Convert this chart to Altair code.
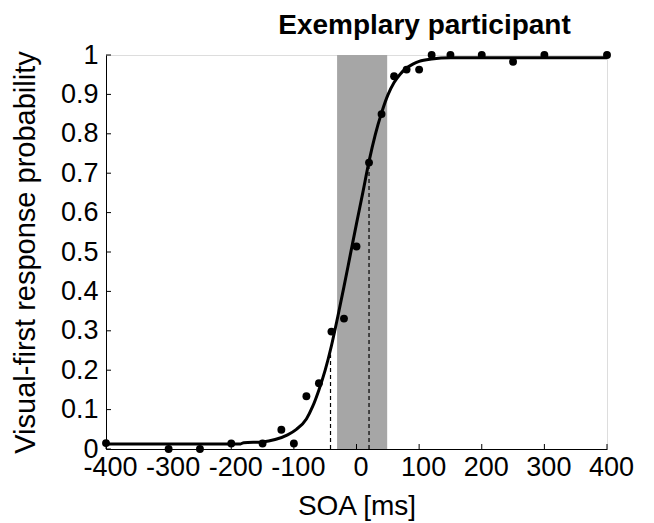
import altair as alt
import pandas as pd

# Observed data points
soa = [-400, -300, -250, -200, -150, -120, -100, -80, -60, -40, -20, 0,
       20, 40, 60, 80, 100, 120, 150, 200, 250, 300, 400]
prob = [0.015, 0.0, 0.0, 0.014, 0.014, 0.049, 0.014, 0.134, 0.167, 0.298, 0.331, 0.514,
        0.727, 0.85, 0.946, 0.963, 0.963, 1.0, 1.0, 1.0, 0.983, 1.0, 1.0]

# Fitted curve
curve_x = [-400, -185, -180, -150, -130, -110, -96, -80, -70, -60, -50, -40, -30, -20,
           -10, 0, 10, 20, 30, 40, 50, 60, 70, 80, 90, 100, 120, 150, 400]
curve_y = [0.013, 0.013, 0.016, 0.018, 0.024, 0.036, 0.050, 0.076, 0.108, 0.150, 0.200,
           0.262, 0.335, 0.412, 0.492, 0.572, 0.650, 0.730, 0.798, 0.853, 0.898, 0.930,
           0.952, 0.967, 0.977, 0.984, 0.990, 0.993, 0.993]

# Dashed threshold lines
dash_x = [-41.5, 20]
dash_top = [0.24, 0.73]

# Shaded window
band_start = [-31]
band_end = [49]

x_ticks = [-400, -300, -200, -100, 0, 100, 200, 300, 400]
y_ticks = [0, 0.1, 0.2, 0.3, 0.4, 0.5, 0.6, 0.7, 0.8, 0.9, 1]

FONT = "Liberation Sans"

xscale = alt.Scale(domain=[-400, 400], nice=False, zero=False)
yscale = alt.Scale(domain=[0, 1], nice=False, zero=False)

xaxis = alt.Axis(values=x_ticks, ticks=False, grid=False, labelFontSize=27, labelFont=FONT,
                 labelColor="black", labelPadding=5, domainColor="black", domainWidth=1,
                 labelExpr="'' + datum.value", labelFlush=False, labelOverlap=False,
                 labelOffset=4,
                 title="SOA [ms]", titleFont=FONT, titleFontSize=28, titleFontWeight="normal",
                 titleColor="black", titlePadding=12)
yaxis = alt.Axis(values=y_ticks, ticks=False, grid=False, labelFontSize=27, labelFont=FONT,
                 labelColor="black", labelPadding=8, domainColor="black", domainWidth=1,
                 format="~g", labelFlush=False, labelOverlap=False,
                 title="Visual-first response probability", titleFont=FONT, titleFontSize=29,
                 titleFontWeight="normal", titleColor="black", titlePadding=20)

def X(field="x"):
    return alt.X(f"{field}:Q", scale=xscale, axis=xaxis)

def Y(field="y"):
    return alt.Y(f"{field}:Q", scale=yscale, axis=yaxis)

band_df = pd.DataFrame({"x": band_start, "x2": band_end, "y": [0], "y2": [1]})
band = alt.Chart(band_df).mark_rect(color="#a6a6a6").encode(
    x=X(), x2="x2:Q", y=Y(), y2="y2:Q")

dash_df = pd.DataFrame({"x": dash_x, "y": [0, 0], "y2": dash_top})
dashes = alt.Chart(dash_df).mark_rule(color="black", strokeWidth=1.2, strokeDash=[4, 3]).encode(
    x=X(), y=Y(), y2="y2:Q")

curve_df = pd.DataFrame({"x": curve_x, "y": curve_y})
curve = alt.Chart(curve_df).mark_line(color="black", strokeWidth=3, interpolate="monotone").encode(
    x=X(), y=Y())

pts_df = pd.DataFrame({"x": soa, "y": prob})
pts = alt.Chart(pts_df).mark_circle(color="black", opacity=1, size=62).encode(
    x=X(), y=Y())

xt_df = pd.DataFrame({"x": x_ticks})
xticks = alt.Chart(xt_df).mark_rule(color="black", strokeWidth=1).encode(
    x=X(), y=alt.value(394), y2=alt.value(389))

yt_df = pd.DataFrame({"y": y_ticks})
yticks = alt.Chart(yt_df).mark_rule(color="black", strokeWidth=1).encode(
    y=Y(), x=alt.value(0), x2=alt.value(5))

chart = alt.layer(band, dashes, curve, pts, xticks, yticks).properties(
    width=501, height=394,
    autosize=alt.AutoSizeParams(type="none"),
    padding={"left": 98, "top": 47, "right": 39, "bottom": 73},
    title=alt.TitleParams("Exemplary participant", font=FONT, fontSize=28, fontWeight="bold",
                          color="black", anchor="middle", frame="group", dx=68, offset=1),
).configure_view(stroke=None).configure(background="white")

chart.save("out.html", embed_options={"renderer": "svg", "actions": False})
